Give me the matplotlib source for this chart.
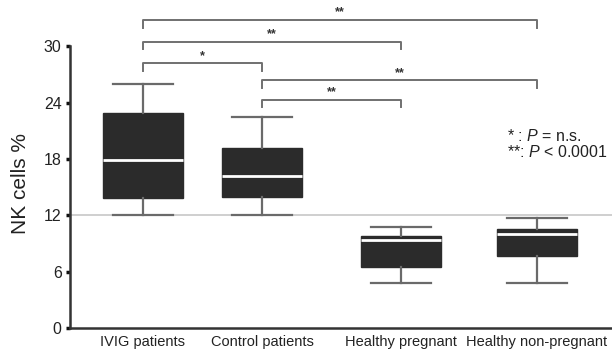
import matplotlib
matplotlib.use("Agg")
import matplotlib.pyplot as plt
from matplotlib.transforms import ScaledTranslation

plt.rcParams['font.family'] = ['Liberation Sans', 'DejaVu Sans']
plt.rcParams['mathtext.fontset'] = 'custom'
plt.rcParams['mathtext.rm'] = 'Liberation Sans'
plt.rcParams['mathtext.it'] = 'Liberation Sans:italic'

groups = ['IVIG patients', 'Control patients', 'Healthy pregnant', 'Healthy non-pregnant']
positions = [1.0, 2.0, 3.17, 4.31]
whiskerLow = [12.0, 12.0, 4.8, 4.8]
q1 = [13.8, 14.0, 6.5, 7.7]
medians = [17.9, 16.2, 9.4, 10.0]
q3 = [22.9, 19.2, 9.8, 10.5]
whiskerHigh = [26.0, 22.5, 10.8, 11.7]

# significance brackets: (from group, to group, height, label)
bracketFrom = [0, 0, 0, 1, 1]
bracketTo = [3, 2, 1, 3, 2]
bracketY = [32.8, 30.5, 28.2, 26.4, 24.3]
bracketLabels = ['**', '**', '*', '**', '**']

yTicks = [0, 6, 12, 18, 24, 30]
refLine = 12

fig = plt.figure(figsize=(6.12, 3.5), dpi=100)
ax = fig.add_axes([70 / 612, 1 - 328 / 350, 1 - 70 / 612, 328 / 350])

stats = []
for i in range(len(groups)):
    stats.append({'whislo': whiskerLow[i], 'q1': q1[i], 'med': medians[i],
                  'q3': q3[i], 'whishi': whiskerHigh[i], 'fliers': []})

boxColor = '#2b2b2b'
lineColor = '#6a6a6a'
ax.bxp(stats, positions=positions, widths=0.67, patch_artist=True, showfliers=False,
       boxprops=dict(facecolor=boxColor, edgecolor=boxColor, linewidth=1),
       medianprops=dict(color='white', linewidth=2),
       whiskerprops=dict(color=lineColor, linewidth=1.6),
       capprops=dict(color=lineColor, linewidth=1.6),
       capwidths=0.5, zorder=3)

ax.axhline(refLine, color='#cfcfcf', linewidth=1.4, zorder=1, clip_on=False)

tickDrop = 0.8
for a, b, y, lab in zip(bracketFrom, bracketTo, bracketY, bracketLabels):
    x1, x2 = positions[a], positions[b]
    ax.plot([x1, x1, x2, x2], [y - tickDrop, y, y, y - tickDrop],
            color='#707070', linewidth=1.4, clip_on=False)
    ax.text((x1 + x2) / 2, y + 0.15, lab, ha='center', va='bottom', fontsize=9,
            fontweight='bold', color='#333333')

ax.text(4.06, 20.5, r'* : $\it{P}$ = n.s.', fontsize=11.5, va='center', ha='left', color='#222222')
ax.text(4.06, 18.7, r'**: $\it{P}$ < 0.0001', fontsize=11.5, va='center', ha='left', color='#222222')

ax.set_xlim(1 - 73 / 119, 1 + 469 / 119)
ax.set_ylim(0, 328 / 9.39)
ax.set_yticks(yTicks)
ax.set_xticks(positions)
ax.set_xticklabels(groups, fontsize=10.5, color='#222222')
shift = ScaledTranslation(-9 / 100, 0, fig.dpi_scale_trans)
for lbl in ax.get_xticklabels():
    lbl.set_transform(lbl.get_transform() + shift)
ax.tick_params(axis='x', length=0, pad=5)
ax.tick_params(axis='y', length=3, width=2.5, pad=3, labelsize=11.5, color='#111111', labelcolor='#222222')

ax.set_ylabel('NK cells %', fontsize=15, color='#222222')
ax.yaxis.set_label_coords(-0.074, 0.44)

for side in ['top', 'right']:
    ax.spines[side].set_visible(False)
ax.spines['left'].set_bounds(0, 30)
ax.spines['left'].set_linewidth(1.8)
ax.spines['left'].set_color('#333333')
ax.spines['bottom'].set_linewidth(1.8)
ax.spines['bottom'].set_color('#333333')

fig.savefig('out.png', dpi=100)
